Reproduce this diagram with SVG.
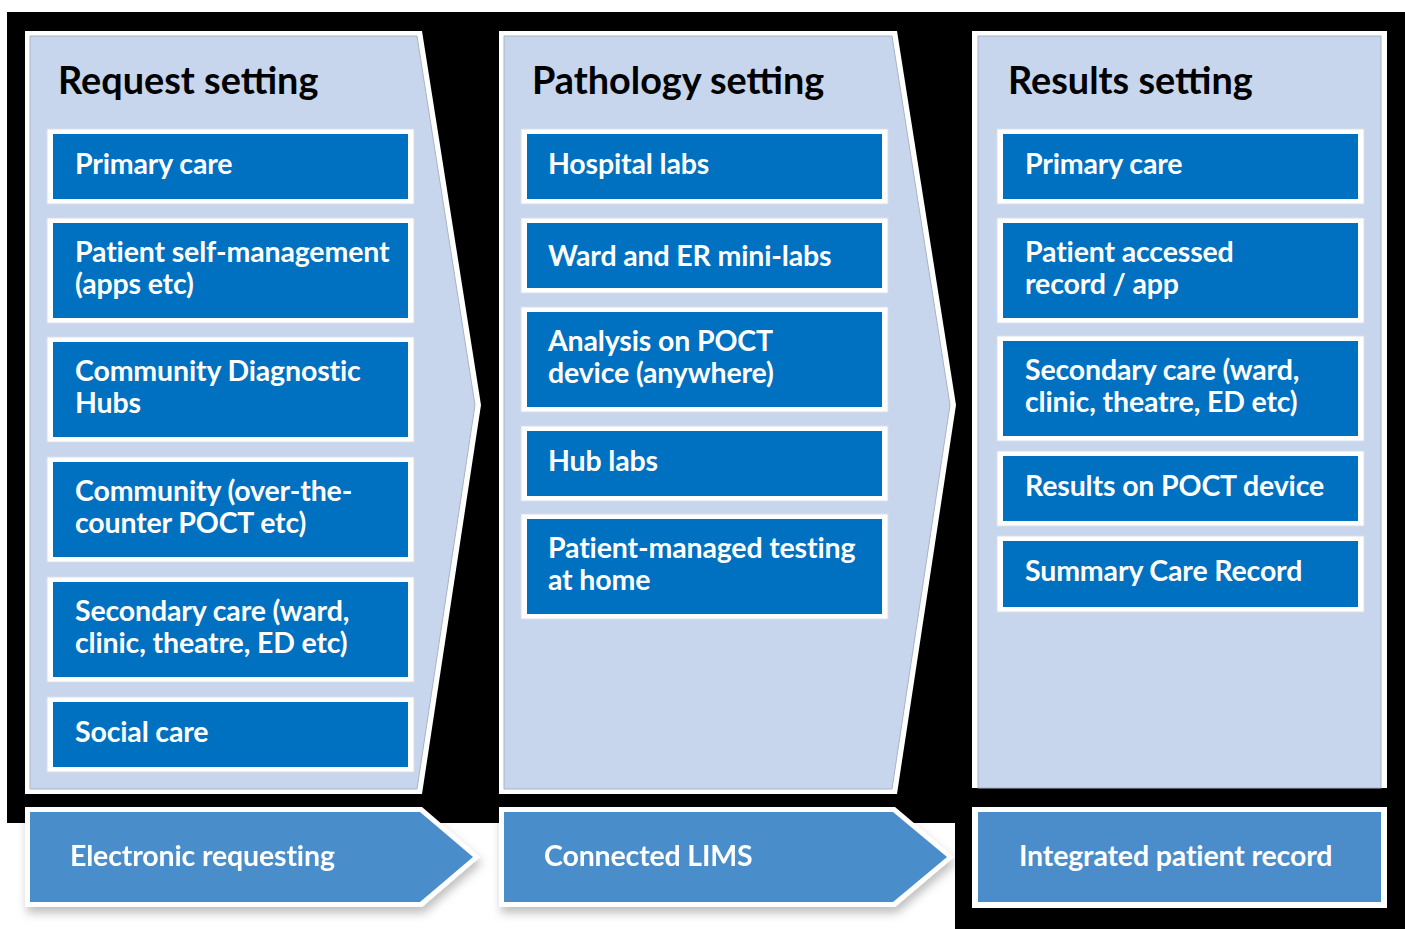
<svg xmlns="http://www.w3.org/2000/svg" width="1405" height="929" viewBox="0 0 1405 929">
<defs>
<style>
.bg{fill:#000}
.pnlo{fill:#fff}
.pnl{fill:#C7D6EC;stroke:#A9B3C4;stroke-width:1}
.boxo{fill:#fff;stroke:#D8DEE8;stroke-width:1}
.box{fill:#0070C0}
.chev{fill:#4A8DCA}
.h{font-family:Lato,"Liberation Sans",sans-serif;font-weight:700;font-size:37.8px;fill:#000}
.t{font-family:Lato,"Liberation Sans",sans-serif;font-weight:700;font-size:28.5px;fill:#fff;letter-spacing:-0.15px}
</style>
<filter id="sh" x="-5%" y="-10%" width="115%" height="140%">
<feDropShadow dx="2" dy="6" stdDeviation="5" flood-color="#000" flood-opacity="0.25"/>
</filter>
</defs>
<rect width="1405" height="929" fill="#fff"/>
<path class="bg" d="M7,12 H1405 V929 H955 V823 H7 Z"/>

<g id="request-setting">
<polygon class="pnlo" points="25,31 422,31 481,405 422,794 25,794"/>
<polygon class="pnl" points="30,36 417,36 475,405 417,789 30,789"/>
<text class="h" x="58" y="94">Request setting</text>
</g>
<g id="req-primary"><rect class="boxo" x="47" y="129" width="367" height="75"/><rect class="box" x="53" y="134" width="355" height="65"/><text class="t" x="75" y="174">Primary care</text></g>
<g id="req-self"><rect class="boxo" x="47" y="218" width="367" height="105"/><rect class="box" x="53" y="223" width="355" height="95"/><text class="t" x="75" y="262">Patient self-management</text><text class="t" x="75" y="294">(apps etc)</text></g>
<g id="req-cdh"><rect class="boxo" x="47" y="337" width="367" height="105"/><rect class="box" x="53" y="342" width="355" height="95"/><text class="t" x="75" y="381">Community Diagnostic</text><text class="t" x="75" y="413">Hubs</text></g>
<g id="req-community"><rect class="boxo" x="47" y="457" width="367" height="105"/><rect class="box" x="53" y="462" width="355" height="95"/><text class="t" x="75" y="501">Community (over-the-</text><text class="t" x="75" y="533">counter POCT etc)</text></g>
<g id="req-secondary"><rect class="boxo" x="47" y="577" width="367" height="105"/><rect class="box" x="53" y="582" width="355" height="95"/><text class="t" x="75" y="621">Secondary care (ward,</text><text class="t" x="75" y="653">clinic, theatre, ED etc)</text></g>
<g id="req-social"><rect class="boxo" x="47" y="697" width="367" height="75"/><rect class="box" x="53" y="702" width="355" height="65"/><text class="t" x="75" y="742">Social care</text></g>

<g id="pathology-setting">
<polygon class="pnlo" points="499,31 897,31 956,405 897,794 499,794"/>
<polygon class="pnl" points="504,36 892,36 950,405 892,789 504,789"/>
<text class="h" x="532" y="94">Pathology setting</text>
</g>
<g id="path-hospital"><rect class="boxo" x="521" y="129" width="367" height="75"/><rect class="box" x="527" y="134" width="355" height="65"/><text class="t" x="548" y="174">Hospital labs</text></g>
<g id="path-ward"><rect class="boxo" x="521" y="218" width="367" height="75"/><rect class="box" x="527" y="223" width="355" height="65"/><text class="t" x="548" y="266">Ward and ER mini-labs</text></g>
<g id="path-poct"><rect class="boxo" x="521" y="307" width="367" height="105"/><rect class="box" x="527" y="312" width="355" height="95"/><text class="t" x="548" y="351">Analysis on POCT</text><text class="t" x="548" y="383">device (anywhere)</text></g>
<g id="path-hub"><rect class="boxo" x="521" y="426" width="367" height="75"/><rect class="box" x="527" y="431" width="355" height="65"/><text class="t" x="548" y="471">Hub labs</text></g>
<g id="path-home"><rect class="boxo" x="521" y="514" width="367" height="105"/><rect class="box" x="527" y="519" width="355" height="95"/><text class="t" x="548" y="558">Patient-managed testing</text><text class="t" x="548" y="590">at home</text></g>

<g id="results-setting">
<rect class="pnlo" x="972" y="31" width="415" height="757"/>
<rect class="pnl" x="978" y="36" width="403" height="752"/>
<text class="h" x="1008" y="94">Results setting</text>
</g>
<g id="res-primary"><rect class="boxo" x="997" y="129" width="367" height="75"/><rect class="box" x="1003" y="134" width="355" height="65"/><text class="t" x="1025" y="174">Primary care</text></g>
<g id="res-record"><rect class="boxo" x="997" y="218" width="367" height="105"/><rect class="box" x="1003" y="223" width="355" height="95"/><text class="t" x="1025" y="262">Patient accessed</text><text class="t" x="1025" y="294">record / app</text></g>
<g id="res-secondary"><rect class="boxo" x="997" y="336" width="367" height="105"/><rect class="box" x="1003" y="341" width="355" height="95"/><text class="t" x="1025" y="380">Secondary care (ward,</text><text class="t" x="1025" y="412">clinic, theatre, ED etc)</text></g>
<g id="res-poct"><rect class="boxo" x="997" y="451" width="367" height="75"/><rect class="box" x="1003" y="456" width="355" height="65"/><text class="t" x="1025" y="496">Results on POCT device</text></g>
<g id="res-scr"><rect class="boxo" x="997" y="536" width="367" height="76"/><rect class="box" x="1003" y="541" width="355" height="66"/><text class="t" x="1025" y="581">Summary Care Record</text></g>

<g id="connectors">
<g id="electronic-requesting" filter="url(#sh)">
<polygon class="pnlo" points="25,807 422,807 480,857 422,907 25,907"/>
<polygon class="chev" points="30,812 420,812 473,857 420,902 30,902"/>
<text class="t" x="70" y="866">Electronic requesting</text>
</g>
<g id="connected-lims" filter="url(#sh)">
<polygon class="pnlo" points="499,807 895,807 954,857 895,907 499,907"/>
<polygon class="chev" points="504,812 893,812 947,857 893,902 504,902"/>
<text class="t" x="544" y="866">Connected LIMS</text>
</g>
<g id="integrated-record">
<rect class="pnlo" x="972" y="807" width="415" height="101"/>
<rect class="chev" x="978" y="812" width="403" height="90"/>
<text class="t" x="1019" y="866">Integrated patient record</text>
</g>
</g>
</svg>
